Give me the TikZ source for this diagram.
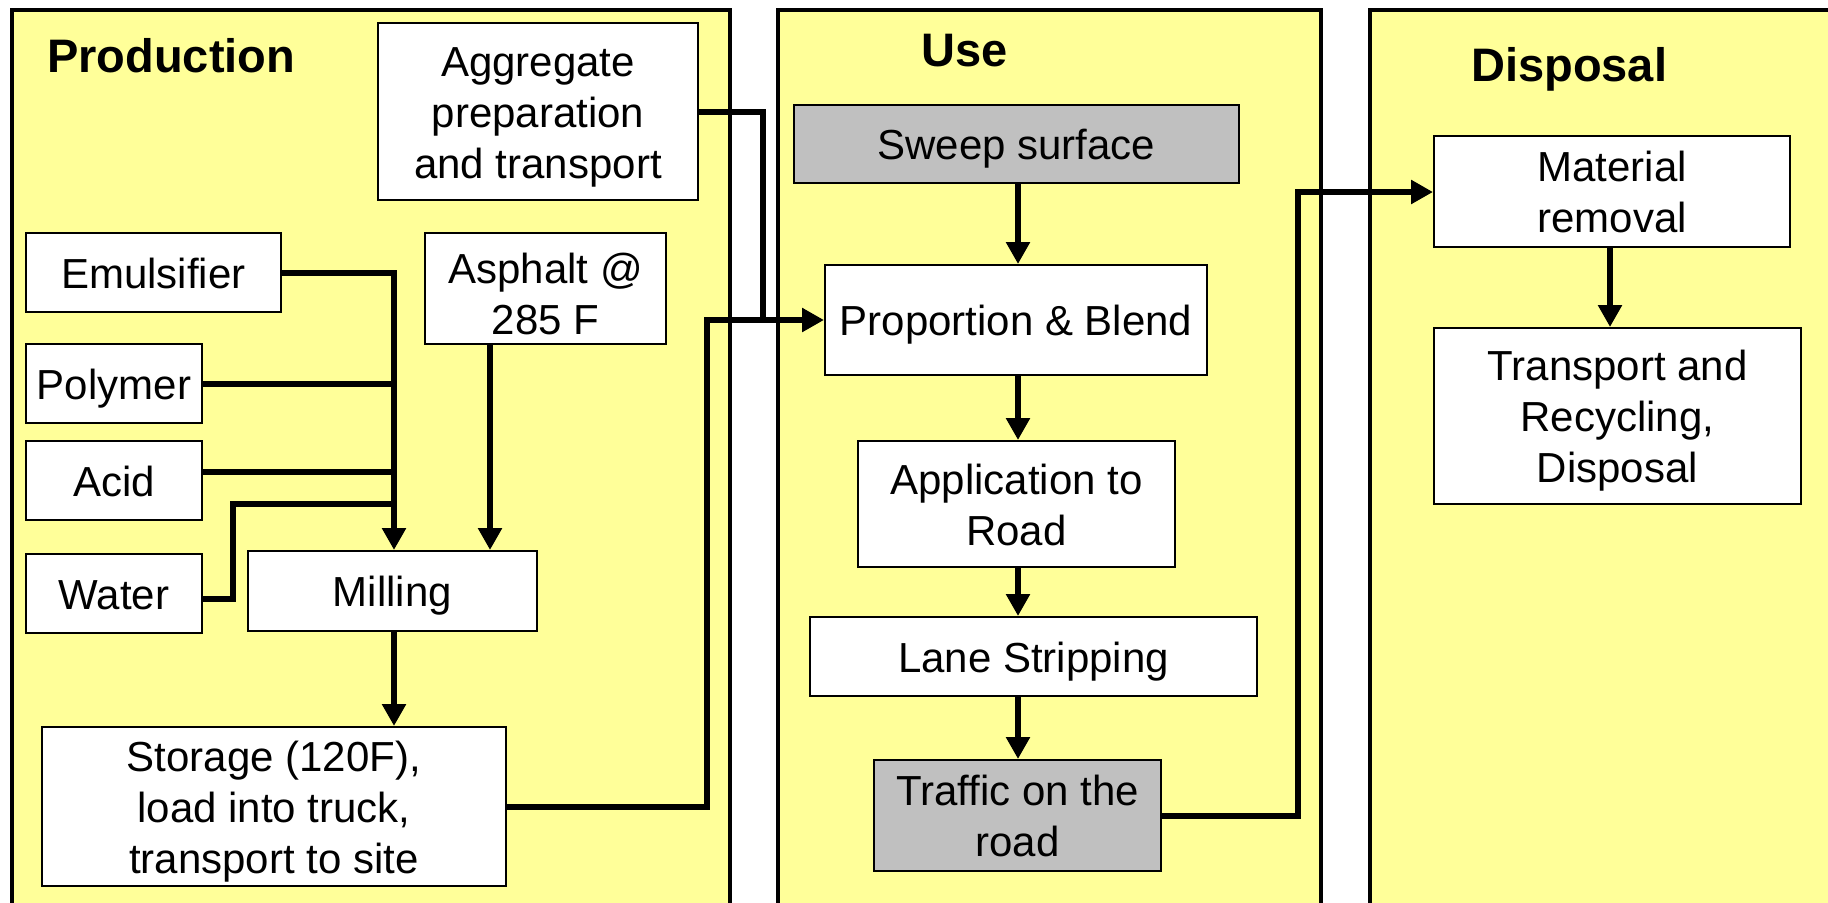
\documentclass[tikz,border=0pt]{standalone}
\usepackage{fontspec}
\setmainfont{Liberation Sans}
\usetikzlibrary{arrows.meta}
\definecolor{panelyellow}{RGB}{255,255,153}
\definecolor{boxgrey}{RGB}{192,192,192}
% fixed line boxes so that every label sits on the same baseline offset
\newcommand\lblstrut{\rule[-9pt]{0pt}{49pt}}
\newcommand\tallstrut{\rule[-9pt]{0pt}{59pt}}

\begin{document}
\begin{tikzpicture}[x=1pt,y=-1pt,
  panel/.style={fill=panelyellow, draw=black, line width=4.5pt},
  box/.style={draw=black, line width=2pt, fill=white, inner sep=0pt,
    align=center, font=\fontsize{42}{51}\selectfont,
    execute at end node=\lblstrut},
  greybox/.style={box, fill=boxgrey},
  heading/.style={font=\fontsize{47}{56}\selectfont\bfseries, inner sep=0pt, anchor=base west},
  feed/.style={line width=6pt},
  flow/.style={feed, -{Triangle[length=22pt,width=23pt]}},
]
\useasboundingbox (0,0) rectangle (1828,902);
\clip (0,0) rectangle (1828,902);

% three stage panels, running off the lower edge
\draw[panel] (12,10) rectangle (730,940);
\draw[panel] (778,10) rectangle (1321,940);
\draw[panel] (1370,10) rectangle (1860,940);

\node[heading] (tprod) at (47,72) {Production};
\node[heading] (tuse) at (921,66) {Use};
\node[heading] (tdisp) at (1471,81) {Disposal};

% production stage
\node[box, minimum width=320, minimum height=177] (agg) at (538,111.5) {\lblstrut Aggregate\\preparation\\and transport};
\node[box, minimum width=255, minimum height=79] (emul) at (153.5,272.5) {Emulsifier};
\node[box, minimum width=176, minimum height=79] (poly) at (114,383.5) {Polymer};
\node[box, minimum width=176, minimum height=79] (acid) at (114,480.5) {Acid};
\node[box, minimum width=176, minimum height=79] (water) at (114,593.5) {Water};
\node[box, minimum width=289, minimum height=80] (mill) at (392.5,591) {Milling};
\node[box, minimum width=241, minimum height=111] (asph) at (545.5,288.5) {\tallstrut Asphalt @\\285 F};
\node[box, minimum width=464, minimum height=159] (stor) at (274,806.5) {\lblstrut Storage (120F),\\load into truck,\\transport to site};

% use stage
\node[greybox, minimum width=445, minimum height=78] (sweep) at (1016.5,144) {Sweep surface};
\node[box, minimum width=382, minimum height=110] (blend) at (1016,320) {Proportion \& Blend};
\node[box, minimum width=317, minimum height=126] (appl) at (1016.5,504) {\lblstrut Application to\\Road};
\node[box, minimum width=447, minimum height=79] (lane) at (1033.5,656.5) {Lane Stripping};
\node[greybox, minimum width=287, minimum height=111] (traffic) at (1017.5,815.5) {\lblstrut Traffic on the\\road};

% disposal stage
\node[box, minimum width=356, minimum height=111] (remov) at (1612,191.5) {\lblstrut Material\\removal};
\node[box, minimum width=367, minimum height=176] (recyc) at (1617.5,416) {\lblstrut Transport and\\Recycling,\\Disposal};

% routing points
\coordinate (trunk) at (394,272);
\coordinate (asx) at (490,0);
\coordinate (wbend) at (233,504);
\coordinate (acidout) at ([yshift=8.5pt]acid.east);
\coordinate (waterout) at ([yshift=-5.5pt]water.east);
\coordinate (sbend) at (707,320);
\coordinate (abend) at (763,112);
\coordinate (ux) at (1018,0);
\coordinate (tbend) at (1298,192);
\coordinate (dx) at (1610,0);

% ingredient feeds into milling
\draw[flow] (emul.east) -| (mill.north -| trunk);
\draw[feed] (poly.east) -- (poly.east -| trunk);
\draw[feed] (acidout) -- (acidout -| trunk);
\draw[feed] (waterout) -| (wbend) -- (wbend -| trunk);
\draw[flow] (asph.south -| asx) -- (mill.north -| asx);
\draw[flow] (mill.south -| trunk) -- (stor.north -| trunk);

% delivery to site
\draw[flow] (stor.east) -| (sbend) -- (blend.west);
\draw[feed] (agg.east |- abend) -- (abend) -- (abend |- blend.west);

% use sequence
\draw[flow] (sweep.south -| ux) -- (blend.north -| ux);
\draw[flow] (blend.south -| ux) -- (appl.north -| ux);
\draw[flow] (appl.south -| ux) -- (lane.north -| ux);
\draw[flow] (lane.south -| ux) -- (traffic.north -| ux);

% end of life
\draw[flow] (traffic.east) -| (tbend) -- (remov.west |- tbend);
\draw[flow] (remov.south -| dx) -- (recyc.north -| dx);
\end{tikzpicture}
\end{document}
